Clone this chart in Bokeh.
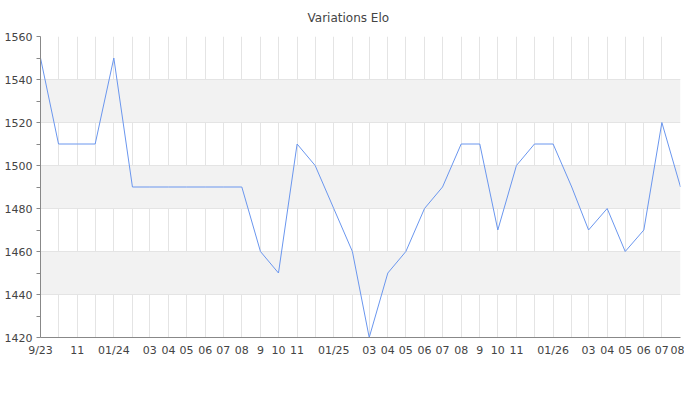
import pandas as pd
from bokeh.plotting import figure
from bokeh.models import FixedTicker, ColumnDataSource
from bokeh.embed import file_html
from bokeh.resources import INLINE

# Monthly dates (first of each month) from Sep 2023 to Aug 2026
months = pd.date_range("2023-09-01", "2026-08-01", freq="MS")
elo = [1550, 1510, 1510, 1510, 1550, 1490, 1490, 1490, 1490, 1490, 1490, 1490,
       1460, 1450, 1510, 1500, 1480, 1460, 1420, 1450, 1460, 1480, 1490, 1510,
       1510, 1470, 1500, 1510, 1510, 1490, 1470, 1480, 1460, 1470, 1520, 1490]
x_labels = ["9/23", "", "11", "", "01/24", "", "03", "04", "05", "06", "07", "08",
            "9", "10", "11", "", "01/25", "", "03", "04", "05", "06", "07", "08",
            "9", "10", "11", "", "01/26", "", "03", "04", "05", "06", "07", "08"]
y_ticks = [1420, 1440, 1460, 1480, 1500, 1520, 1540, 1560]
y_minor = [1430, 1450, 1470, 1490, 1510, 1530, 1550]
title_text = "Variations Elo"

start = months[0]
days = [int((d - start).days) for d in months]

src = ColumnDataSource(data=dict(x=days, y=elo))

p = figure(width=684, height=384, output_backend="svg", toolbar_location=None,
           x_range=(days[0], days[-1]), y_range=(1420, 1560),
           min_border_left=40, min_border_right=4, min_border_top=36,
           min_border_bottom=47, title=title_text)
p.outline_line_color = None
p.background_fill_color = "white"
p.border_fill_color = "white"

p.title.align = "left"
p.title.offset = 267
p.title.vertical_align = "top"
p.title.text_font = "DejaVu Sans"
p.title.text_font_size = "12px"
p.title.text_font_style = "normal"
p.title.text_color = "#444444"
p.title.standoff = 20

p.line("x", "y", source=src, line_color="#6a96ee", line_width=1)

# x axis
p.xaxis.ticker = FixedTicker(ticks=days)
p.xaxis.major_label_overrides = {d: lab for d, lab in zip(days, x_labels)}
p.xaxis.major_tick_line_color = None
p.xaxis.minor_tick_line_color = None
p.xaxis.major_tick_out = 0
p.xaxis.major_label_standoff = 6
p.xaxis.axis_line_color = "#888888"
p.xaxis.major_label_text_font = "DejaVu Sans"
p.xaxis.major_label_text_font_size = "11px"
p.xaxis.major_label_text_color = "#444444"

# y axis
p.yaxis.ticker = FixedTicker(ticks=y_ticks, minor_ticks=y_minor)
p.yaxis.axis_line_color = "#888888"
p.yaxis.major_tick_line_color = "#888888"
p.yaxis.minor_tick_line_color = "#888888"
p.yaxis.major_tick_in = 0
p.yaxis.minor_tick_in = 0
p.yaxis.major_tick_out = 4
p.yaxis.minor_tick_out = 4
p.yaxis.major_label_standoff = 4
p.yaxis.major_label_text_font = "DejaVu Sans"
p.yaxis.major_label_text_font_size = "11px"
p.yaxis.major_label_text_color = "#444444"

# grids
p.xgrid.grid_line_color = "#e4e4e4"
p.ygrid.grid_line_color = "#e4e4e4"
p.ygrid.band_fill_color = "#f2f2f2"
p.ygrid.band_fill_alpha = 1.0

open("out.html", "w").write(file_html(p, INLINE))
